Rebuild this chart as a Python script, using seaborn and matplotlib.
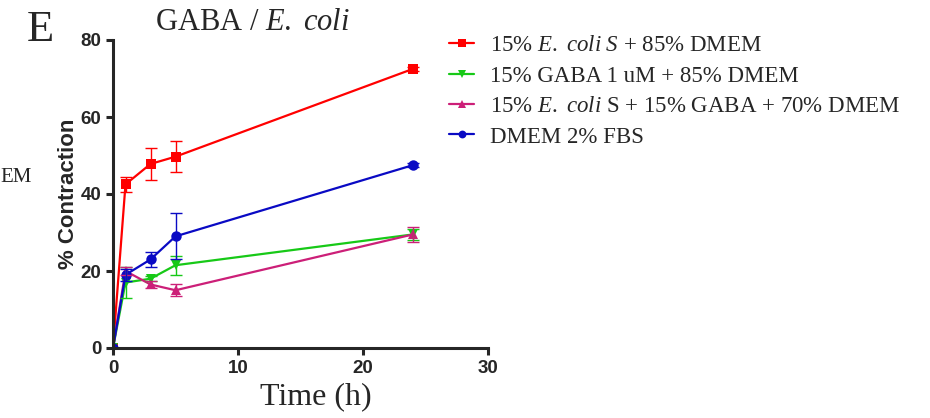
import pandas as pd
import matplotlib
matplotlib.use("Agg")
import matplotlib.pyplot as plt
import seaborn as sns

# time points (h)
time_h = [0, 1, 3, 5, 24]

# mean % contraction per condition
ecoli_mean = [0, 42.5, 47.8, 49.7, 72.5]
gaba_mean = [0, 17.0, 18.0, 21.5, 29.5]
mix_mean = [0, 20.0, 16.5, 15.0, 29.5]
dmem_mean = [0, 19.0, 23.0, 29.0, 47.5]

# error bars
ecoli_err = [0, 2.0, 4.2, 4.0, 0.5]
gaba_err = [0, 4.0, 0.6, 2.5, 1.5]
mix_err = [0, 1.0, 1.0, 1.5, 2.0]
dmem_err = [0, 1.5, 2.0, 6.0, 0.5]

labels = [
    "15% $\\it{E.\\ coli\\ S}$ + 85% DMEM",
    "15% GABA 1 uM + 85% DMEM",
    "15% $\\it{E.\\ coli}$ S + 15% GABA + 70% DMEM",
    "DMEM 2% FBS",
]
colors = ["#ff0000", "#17c917", "#cc1f78", "#0a0ac4"]
markers = ["s", "v", "^", "o"]

means = [ecoli_mean, gaba_mean, mix_mean, dmem_mean]
errs = [ecoli_err, gaba_err, mix_err, dmem_err]

rows = []
for lab, m, e in zip(labels, means, errs):
    for t, v, s in zip(time_h, m, e):
        rows.append({"time": t, "value": v, "err": s, "group": lab})
df = pd.DataFrame(rows)

sns.set_style("ticks")
plt.rcParams["font.family"] = ["Liberation Serif", "DejaVu Serif"]
plt.rcParams["mathtext.fontset"] = "custom"
plt.rcParams["mathtext.rm"] = "Liberation Serif"
plt.rcParams["mathtext.it"] = "Liberation Serif:italic"

fig = plt.figure(figsize=(9.3, 4.18), dpi=100)
ax = fig.add_axes([113 / 930, 1 - 348 / 418, 375 / 930, 308 / 418])

sns.lineplot(data=df, x="time", y="value", hue="group", style="group",
             hue_order=labels, style_order=labels,
             palette=dict(zip(labels, colors)),
             markers=dict(zip(labels, markers)), dashes=False,
             markersize=7.5, markeredgewidth=0, linewidth=1.6,
             errorbar=None, ax=ax, legend=True)

for lab, c in zip(labels, colors):
    sub = df[df["group"] == lab]
    ax.errorbar(sub["time"], sub["value"], yerr=sub["err"], fmt="none",
                ecolor=c, elinewidth=1.0, capsize=4, capthick=1.0)

ax.set_xlim(0, 30)
ax.set_ylim(0, 80)
ax.set_xticks([0, 10, 20, 30])
ax.set_yticks([0, 20, 40, 60, 80])
for s in ["top", "right"]:
    ax.spines[s].set_visible(False)
for s in ["left", "bottom"]:
    ax.spines[s].set_linewidth(2.2)
ax.tick_params(width=2.2, length=5, direction="out")
for t in ax.get_xticklabels() + ax.get_yticklabels():
    t.set_fontfamily("Liberation Sans")
    t.set_fontweight("bold")
    t.set_fontsize(13.5)

ax.set_ylabel("% Contraction", fontfamily="Liberation Sans",
              fontweight="bold", fontsize=16, labelpad=1)
ax.set_xlabel("")
fig.text(316 / 930, 1 - 397 / 418, "Time (h)", fontsize=23,
         ha="center", va="center")

fig.text(252 / 930, 1 - 23 / 418, "GABA / $\\it{E.\\ coli}$", fontsize=22,
         ha="center", va="center")
fig.text(40 / 930, 1 - 30 / 418, "E", fontsize=32, ha="center", va="center")
fig.text(0, 1 - 178 / 418, "EM", fontsize=15, ha="left", va="center")

handles, _ = ax.get_legend_handles_labels()
ax.get_legend().remove()
fig.legend(handles, labels, loc="upper left",
           bbox_to_anchor=(440 / 930, 1 - 26 / 418), frameon=False,
           fontsize=16.5, handlelength=1.1, handletextpad=0.7,
           labelspacing=0.41, markerscale=0.75, borderaxespad=0)

fig.savefig("out.png", dpi=100)
